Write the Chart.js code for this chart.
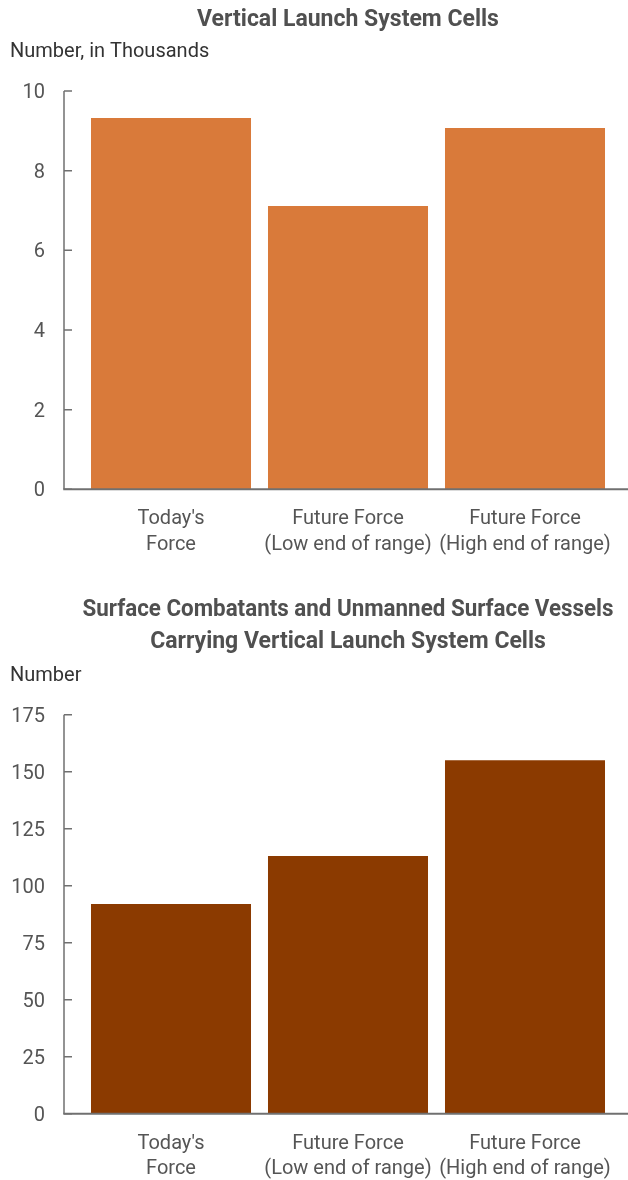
<!DOCTYPE html>
<html>
<head>
<meta charset="utf-8">
<script src="https://cdn.jsdelivr.net/npm/chart.js@4"></script>
<style>
  body { margin: 0; background: #fff; }
  .box { position: relative; width: 628px; }
</style>
</head>
<body>
<div class="box" style="height:580px"><canvas id="graficoCells"></canvas></div>
<div class="box" style="height:600px"><canvas id="graficoShips"></canvas></div>
<script>
// data
const categories = [["Today's", 'Force'], ['Future Force', '(Low end of range)'], ['Future Force', '(High end of range)']];
const cellsThousands = [9.32, 7.11, 9.07];
const shipCounts = [92, 113, 155];
const cellsTicks = [0, 2, 4, 6, 8, 10];
const shipTicks = [0, 25, 50, 75, 100, 125, 150, 175];

Chart.defaults.font.family = 'Roboto';
Chart.defaults.color = '#555555';

// axis line sits a bit left of the first bar, ticks point inward
const axisLines = {
  id: 'axisLines',
  afterDatasetsDraw(chart) {
    const { ctx, chartArea } = chart;
    const y = chart.scales.y;
    const x0 = chartArea.left - 18.5;
    ctx.save();
    ctx.strokeStyle = '#707070';
    ctx.lineWidth = 1.5;
    ctx.beginPath();
    ctx.moveTo(x0, chartArea.top);
    ctx.lineTo(x0, chartArea.bottom);
    y.ticks.forEach(t => {
      const py = y.getPixelForValue(t.value);
      ctx.moveTo(x0, py);
      ctx.lineTo(x0 + 8, py);
    });
    ctx.stroke();
    ctx.lineWidth = 2;
    ctx.beginPath();
    ctx.moveTo(x0 - 0.75, chartArea.bottom);
    ctx.lineTo(chart.width, chartArea.bottom);
    ctx.stroke();
    ctx.restore();
  }
};

function barChart(id, values, ticks, color, title, sub, t) {
  new Chart(document.getElementById(id), {
    type: 'bar',
    data: {
      labels: categories,
      datasets: [{ data: values, backgroundColor: color, barPercentage: 0.904, categoryPercentage: 1 }]
    },
    options: {
      responsive: true,
      maintainAspectRatio: false,
      animation: false,
      layout: { padding: { left: 10, right: 14.5, top: 0, bottom: 0 } },
      plugins: {
        legend: { display: false },
        tooltip: { enabled: false },
        title: {
          display: true, text: title, fullSize: false, color: '#505050',
          font: { size: 23, weight: 'bold', lineHeight: t.titleLH },
          padding: { top: t.titleTop, bottom: t.titleBottom }
        },
        subtitle: {
          display: true, text: sub, align: 'start', color: '#333333',
          font: { size: 20, lineHeight: 1.2 },
          padding: { top: 0, bottom: t.subBottom }
        }
      },
      scales: {
        x: {
          grid: { display: false },
          border: { display: false },
          ticks: { font: { size: 20, lineHeight: 1.28 }, padding: 9, maxRotation: 0 },
          afterFit: s => { s.height = t.xHeight; }
        },
        y: {
          min: ticks[0],
          max: ticks[ticks.length - 1],
          grid: { display: false, drawTicks: false },
          border: { display: false },
          ticks: { font: { size: 20 }, padding: 37.5, labelOffset: 2 },
          afterBuildTicks: s => { s.ticks = ticks.map(v => ({ value: v })); },
          afterFit: s => { s.width = 72.5; }
        }
      }
    },
    plugins: [axisLines]
  });
}

// 1. VLS cells
barChart('graficoCells', cellsThousands, cellsTicks, '#D97A3A',
  'Vertical Launch System Cells', 'Number, in Thousands',
  { titleLH: 1.2, titleTop: 6.2, titleBottom: 6.2, subBottom: 27, xHeight: 90.7 });

// 2. Ships carrying VLS cells
barChart('graficoShips', shipCounts, shipTicks, '#8B3A00',
  ['Surface Combatants and Unmanned Surface Vessels', 'Carrying Vertical Launch System Cells'], 'Number',
  { titleLH: 1.391, titleTop: 14, titleBottom: 6, subBottom: 26.7, xHeight: 66.3 });
</script>
</body>
</html>
